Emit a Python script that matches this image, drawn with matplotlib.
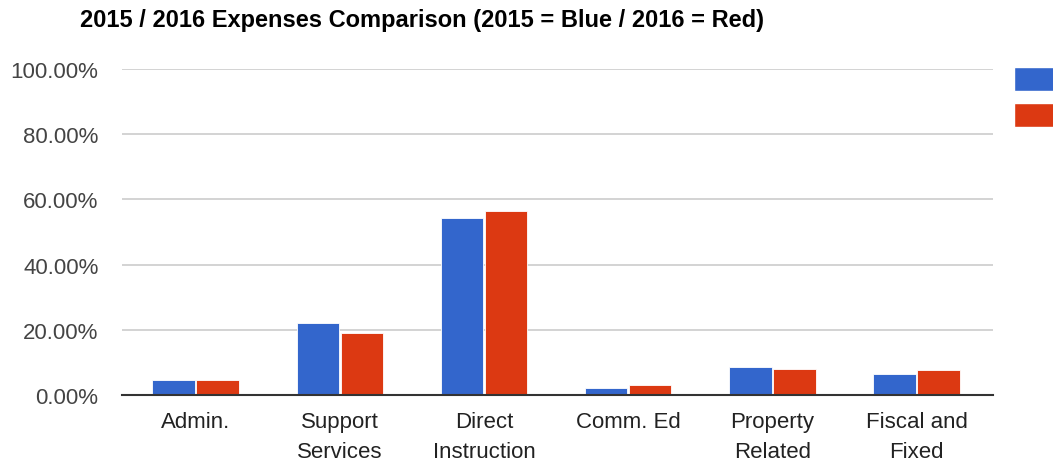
import matplotlib.pyplot as plt
import numpy as np
from matplotlib.patches import Patch

plt.rcParams['font.family'] = ['Liberation Sans', 'DejaVu Sans']

# 카테고리와 값 (%)
categories = ['Admin.', 'Support\nServices', 'Direct\nInstruction', 'Comm. Ed',
              'Property\nRelated', 'Fiscal and\nFixed']
y2015 = [4.6, 22.0, 54.3, 2.2, 8.6, 6.3]
y2016 = [4.5, 19.1, 56.4, 2.9, 8.0, 7.5]
yticks = [0, 20, 40, 60, 80, 100]
blue = '#3366cc'
red = '#dc3912'

figure = plt.figure(figsize=(10.53, 4.64), dpi=100)
axes = figure.add_axes([0.116, 0.147, 0.827, 0.702])

x = np.arange(len(categories))
w = 0.295
axes.bar(x - w / 2 - 0.005, y2015, width=w, color=blue, edgecolor='white', linewidth=0.6, zorder=3)
axes.bar(x + w / 2 + 0.005, y2016, width=w, color=red, edgecolor='white', linewidth=0.6, zorder=3)

axes.set_xlim(-0.51, 5.53)
axes.set_ylim(0, 100)
axes.set_yticks(yticks)
axes.set_yticklabels(['%.2f%%' % v for v in yticks])
axes.set_xticks(x)
axes.set_xticklabels(categories, linespacing=1.55)
axes.tick_params(axis='y', length=0, pad=17, labelsize=16, labelcolor='#444444')
axes.tick_params(axis='x', length=0, pad=12, labelsize=16, labelcolor='#222222')

axes.grid(axis='y', color='#cccccc', linewidth=1.2, zorder=0)
for s in ['top', 'right', 'left']:
    axes.spines[s].set_visible(False)
axes.spines['bottom'].set_color('#333333')
axes.spines['bottom'].set_linewidth(1.5)
axes.spines['bottom'].set_zorder(4)

figure.text(0.076, 0.955, '2015 / 2016 Expenses Comparison (2015 = Blue / 2016 = Red)',
            fontsize=17, fontweight='bold', color='#000000', va='center', ha='left')

# 범례: 라벨은 그림 밖이라 보이지 않음
handles = [Patch(facecolor=blue, edgecolor='white'), Patch(facecolor=red, edgecolor='white')]
figure.legend(handles, [' ', ' '], loc='upper left', bbox_to_anchor=(0.963, 0.854),
              frameon=False, fontsize=16, handlelength=2.4, handleheight=1.3,
              labelspacing=0.52, borderaxespad=0, borderpad=0)

figure.savefig('out.png', dpi=100)
